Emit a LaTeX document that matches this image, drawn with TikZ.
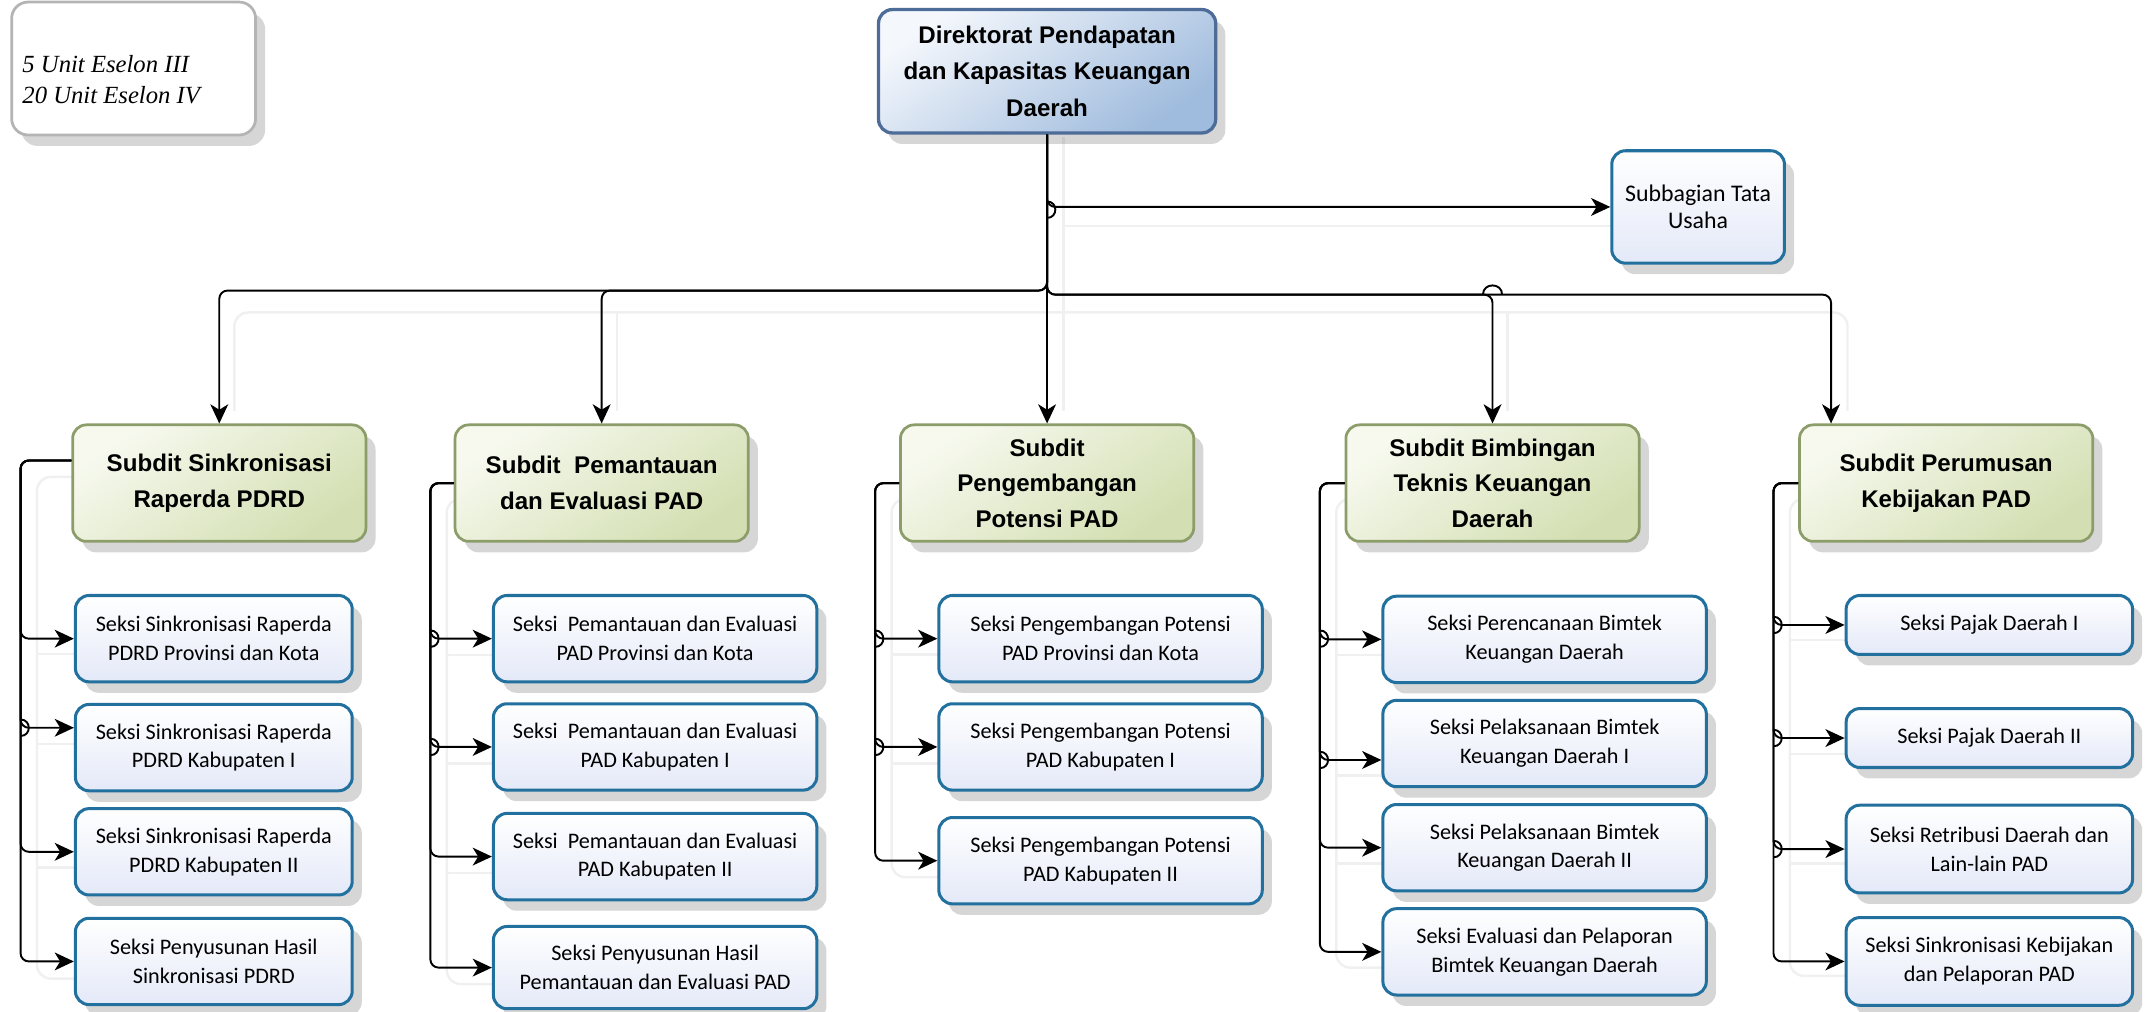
\documentclass[tikz,border=0pt]{standalone}
\usepackage{fontspec}
\setmainfont{Liberation Sans}
\newfontfamily\seksiF{Carlito}
\newfontfamily\legF{Liberation Serif}
\usetikzlibrary{arrows.meta,shadows,calc}
\definecolor{dirborder}{HTML}{4E6C98}
\definecolor{dirlight}{HTML}{F4F7FC}
\definecolor{dirdark}{HTML}{9FBBDD}
\definecolor{subborder}{HTML}{8C9D6A}
\definecolor{sublight}{HTML}{F7F9EF}
\definecolor{subdark}{HTML}{D3DFB2}
\definecolor{sekborder}{HTML}{22709E}
\definecolor{seklight}{HTML}{FFFFFF}
\definecolor{sekdark}{HTML}{E4E9F8}
\definecolor{legborder}{HTML}{B4B4B4}
\begin{document}
\begin{tikzpicture}[x=0.5pt,y=-0.5pt,
 conn/.style={line width=0.7pt, draw=black},
 arr/.style={conn, -{Stealth[length=7pt,width=6.5pt,inset=2pt]}, rounded corners=3pt},
 ghost/.style={draw=black!6, line width=0.9pt, rounded corners=5pt},
 shad/.style={drop shadow={shadow xshift=3.5pt,shadow yshift=-4pt,opacity=0.16,fill=black}},
 legbox/.style={shad, draw=legborder, line width=1pt, rounded corners=6pt, fill=white, minimum width=89pt, minimum height=48.5pt, inner sep=0pt},
 legtext/.style={align=left, inner sep=0pt, font=\legF\itshape\fontsize{9}{11.5}\selectfont},
 dirbox/.style={shad, draw=dirborder, line width=1.2pt, rounded corners=5pt, top color=dirlight, bottom color=dirdark, shading angle=35, align=center, font=\fontsize{8.8}{13.2}\selectfont\bfseries, minimum width=123pt, minimum height=45pt, inner sep=0pt},
 subdit/.style={shad, draw=subborder, line width=1pt, rounded corners=5pt, top color=sublight, bottom color=subdark, shading angle=35, align=center, font=\fontsize{8.8}{13}\selectfont\bfseries, minimum width=107pt, minimum height=42.5pt, inner sep=0pt},
 seksi/.style={shad, draw=sekborder, line width=1.1pt, rounded corners=5pt, top color=seklight, bottom color=sekdark, align=center, font=\seksiF\fontsize{8.1}{10.5}\selectfont, inner sep=0pt},
 sekA/.style={seksi, minimum width=101pt, minimum height=31.5pt},
 sekB/.style={seksi, minimum width=118pt, minimum height=31.5pt},
 sekC/.style={seksi, minimum width=104.5pt, minimum height=21.5pt},
 sekD/.style={seksi, minimum width=104.5pt, minimum height=32pt},
 subtu/.style={seksi, minimum width=63pt, minimum height=41pt, font=\seksiF\fontsize{8.7}{9.6}\selectfont},
]
\useasboundingbox (0,0) rectangle (1568,737.7);

% faint guide lines
\begin{scope}
\draw[ghost] (776,100) -- (776,300);
\draw[ghost] (171,300) -- (171,228) -- (1348,228) -- (1348,300);
\draw[ghost] (450,228) -- (450,300);
\draw[ghost] (1100,228) -- (1100,300);
\draw[ghost] (776,165) -- (1176,165);
\draw[ghost] (53,348) -- (27,348) -- (27,714) -- (55,714);
\foreach \yy in {477,543,633} \draw[ghost] (27,\yy) -- (55,\yy);
\draw[ghost] (332,364) -- (326,364) -- (326,718) -- (360,718);
\foreach \yy in {478,557,637} \draw[ghost] (326,\yy) -- (360,\yy);
\draw[ghost] (657,364) -- (650.5,364) -- (650.5,640) -- (685,640);
\foreach \yy in {477.5,557} \draw[ghost] (650.5,\yy) -- (685,\yy);
\draw[ghost] (982,364) -- (975,364) -- (975,706) -- (1009,706);
\foreach \yy in {478,566,630} \draw[ghost] (975,\yy) -- (1009,\yy);
\draw[ghost] (1313,364) -- (1306,364) -- (1306,712) -- (1347,712);
\foreach \yy in {467,550,630} \draw[ghost] (1306,\yy) -- (1347,\yy);
\end{scope}

% legend
\node[legbox] (leg) at (97.5,50) {};
\node[legtext, anchor=west] (legt) at (16,58) {5 Unit Eselon III\\20 Unit Eselon IV};

% top level
\node[dirbox] (dir) at (764,52) {Direktorat Pendapatan\\dan Kapasitas Keuangan\\Daerah};
\node[subtu] (sub) at (1239,151) {Subbagian Tata\\Usaha};

% subdit
\node[subdit] (s1) at (160,352.5) {Subdit Sinkronisasi\\Raperda PDRD};
\node[subdit] (s2) at (439,352.5) {Subdit~ Pemantauan\\dan Evaluasi PAD};
\node[subdit] (s3) at (764,352.5) {Subdit\\Pengembangan\\Potensi PAD};
\node[subdit] (s4) at (1089,352.5) {Subdit Bimbingan\\Teknis Keuangan\\Daerah};
\node[subdit] (s5) at (1420,352.5) {Subdit Perumusan\\Kebijakan PAD};

% seksi column 1
\node[sekA] (c1r1) at (156,466) {Seksi Sinkronisasi Raperda\\PDRD Provinsi dan Kota};
\node[sekA] (c1r2) at (156,545.5) {Seksi Sinkronisasi Raperda\\PDRD Kabupaten I};
\node[sekA] (c1r3) at (156,621.5) {Seksi Sinkronisasi Raperda\\PDRD Kabupaten II};
\node[sekA] (c1r4) at (156,701.5) {Seksi Penyusunan Hasil\\Sinkronisasi PDRD};
% column 2
\node[sekB] (c2r1) at (478,466) {Seksi~ Pemantauan dan Evaluasi\\PAD Provinsi dan Kota};
\node[sekB] (c2r2) at (478,545) {Seksi~ Pemantauan dan Evaluasi\\PAD Kabupaten I};
\node[sekB] (c2r3) at (478,625) {Seksi~ Pemantauan dan Evaluasi\\PAD Kabupaten II};
\node[sekB, minimum height=30pt] (c2r4) at (478,706) {Seksi Penyusunan Hasil\\Pemantauan dan Evaluasi PAD};
% column 3
\node[sekB] (c3r1) at (803,466) {Seksi Pengembangan Potensi\\PAD Provinsi dan Kota};
\node[sekB] (c3r2) at (803,545) {Seksi Pengembangan Potensi\\PAD Kabupaten I};
\node[sekB] (c3r3) at (803,628) {Seksi Pengembangan Potensi\\PAD Kabupaten II};
% column 4
\node[sekB] (c4r1) at (1127,466.5) {Seksi Perencanaan Bimtek\\Keuangan Daerah};
\node[sekB] (c4r2) at (1127,542.5) {Seksi Pelaksanaan Bimtek\\Keuangan Daerah I};
\node[sekB] (c4r3) at (1127,618.5) {Seksi Pelaksanaan Bimtek\\Keuangan Daerah II};
\node[sekB] (c4r4) at (1127,694.5) {Seksi Evaluasi dan Pelaporan\\Bimtek Keuangan Daerah};
% column 5
\node[sekC] (c5r1) at (1451.5,456) {Seksi Pajak Daerah I};
\node[sekC] (c5r2) at (1451.5,538.5) {Seksi Pajak Daerah II};
\node[sekD] (c5r3) at (1451.5,619.5) {Seksi Retribusi Daerah dan\\Lain-lain PAD};
\node[sekD] (c5r4) at (1451.5,701.5) {Seksi Sinkronisasi Kebijakan\\dan Pelaporan PAD};

% helper coordinates
\coordinate (bus1) at (0,212);
\coordinate (bus2) at (0,215);
\coordinate (v1) at (15,0);
\coordinate (v2) at (314,0);
\coordinate (v3) at (638.5,0);
\coordinate (v4) at (963,0);
\coordinate (v5) at (1294,0);
\coordinate (s1o) at ([yshift=8.25pt]s1.west);
\coordinate (c1r2in) at ([yshift=7.25pt]c1r2.west);
\coordinate (c4r2in) at ([yshift=-6pt]c4r2.west);
\coordinate (s5in) at ([xshift=12pt]s5.north west);

% top connectors
\draw[arr] (dir.south) |- (sub.west);
\draw[arr] (dir.south) -- (s3.north);
\draw[arr] (dir.south) |- (s1.north |- bus1) -- (s1.north);
\draw[arr] (dir.south) |- (s2.north |- bus1) -- (s2.north);
\draw[arr] (dir.south) |- (s4.north |- bus2) -- (s4.north);
\draw[arr] (dir.south) |- (s5in |- bus2) -- (s5in);
% hops on top connectors
\draw[conn] (764,147) .. controls (772,147) and (772,159) .. (764,159);
\draw[conn] (1082,215) .. controls (1082,206) and (1096,206) .. (1096,215);

% column connectors
\draw[arr] (s1o) -| (v1 |- c1r1.west) -- (c1r1.west);
\draw[arr] (s1o) -| (v1 |- c1r2in) -- (c1r2in);
\draw[arr] (s1o) -| (v1 |- c1r3.west) -- (c1r3.west);
\draw[arr] (s1o) -| (v1 |- c1r4.west) -- (c1r4.west);

\draw[arr] (s2.west) -| (v2 |- c2r1.west) -- (c2r1.west);
\draw[arr] (s2.west) -| (v2 |- c2r2.west) -- (c2r2.west);
\draw[arr] (s2.west) -| (v2 |- c2r3.west) -- (c2r3.west);
\draw[arr] (s2.west) -| (v2 |- c2r4.west) -- (c2r4.west);

\draw[arr] (s3.west) -| (v3 |- c3r1.west) -- (c3r1.west);
\draw[arr] (s3.west) -| (v3 |- c3r2.west) -- (c3r2.west);
\draw[arr] (s3.west) -| (v3 |- c3r3.west) -- (c3r3.west);

\draw[arr] (s4.west) -| (v4 |- c4r1.west) -- (c4r1.west);
\draw[arr] (s4.west) -| (v4 |- c4r2in) -- (c4r2in);
\draw[arr] (s4.west) -| (v4 |- c4r3.west) -- (c4r3.west);
\draw[arr] (s4.west) -| (v4 |- c4r4.west) -- (c4r4.west);

\draw[arr] (s5.west) -| (v5 |- c5r1.west) -- (c5r1.west);
\draw[arr] (s5.west) -| (v5 |- c5r2.west) -- (c5r2.west);
\draw[arr] (s5.west) -| (v5 |- c5r3.west) -- (c5r3.west);
\draw[arr] (s5.west) -| (v5 |- c5r4.west) -- (c5r4.west);

% hops on column lines
\foreach \xx/\yy in {15/531, 314/466, 314/545, 638.5/466, 638.5/545, 963/466, 963/554.5, 1294/456, 1294/538.5, 1294/619.5}
  \draw[conn] (\xx,\yy-6) .. controls (\xx+8,\yy-6) and (\xx+8,\yy+6) .. (\xx,\yy+6);
\end{tikzpicture}
\end{document}
